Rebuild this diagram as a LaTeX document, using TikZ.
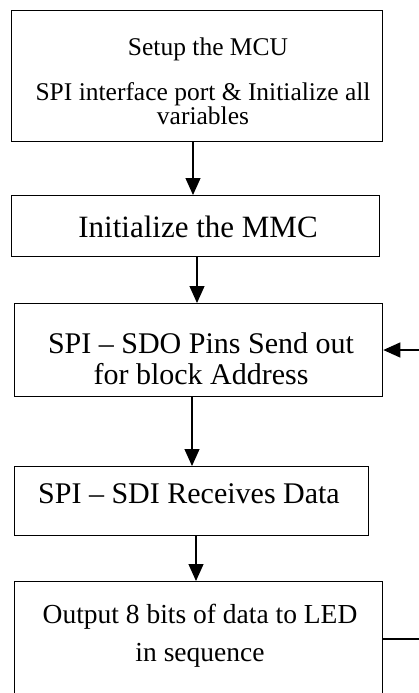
\documentclass[tikz,border=0pt]{standalone}
\usepackage{fontspec}
\setmainfont{Liberation Serif}
\usetikzlibrary{arrows.meta}

\tikzset{
  flowbox/.style={draw, line width=1.3pt, rectangle, inner sep=0pt, anchor=north west},
  line/.style={anchor=base, inner sep=0pt},
  flowarrow/.style={line width=1.2pt, -{Triangle[length=17pt,width=15pt]}},
  feedback/.style={line width=1.2pt}
}
\newcommand{\fs}[1]{\fontsize{#1}{#1}\selectfont}

\begin{document}
\begin{tikzpicture}[x=1pt, y=-1pt]
  \useasboundingbox (0,0) rectangle (419,693);
  \clip (0,0) rectangle (419,693);

  % boxes
  \node[flowbox, minimum width=371pt, minimum height=131pt] (b1) at (11,10) {};
  \node[flowbox, minimum width=368pt, minimum height=61pt]  (b2) at (11,195) {};
  \node[flowbox, minimum width=368pt, minimum height=93pt]  (b3) at (14,303) {};
  \node[flowbox, minimum width=354pt, minimum height=69pt]  (b4) at (14,466) {};
  \node[flowbox, minimum width=368pt, minimum height=140pt] (b5) at (14,581) {};

  % texts
  \node[line, font=\fs{25.5}] (t1a) at (208,56)  {Setup the MCU};
  \node[line, font=\fs{25.5}] (t1b) at (203,100) {SPI interface port \& Initialize all};
  \node[line, font=\fs{25.5}] (t1c) at (203,124) {variables};
  \node[line, font=\fs{31}]   (t2)  at (198,237) {Initialize the MMC};
  \node[line, font=\fs{30}]   (t3a) at (201,353) {SPI -- SDO Pins Send out};
  \node[line, font=\fs{30}]   (t3b) at (201,384) {for block Address};
  \node[line, font=\fs{30}]   (t4)  at (189,503) {SPI -- SDI Receives Data};
  \node[line, font=\fs{27.5}] (t5a) at (200,623) {Output 8 bits of data to LED};
  \node[line, font=\fs{27.5}] (t5b) at (200,661) {in sequence};

  % flow arrows
  \draw[flowarrow] (b1.south -| 193,0) -- (b2.north -| 193,0);
  \draw[flowarrow] (b2.south -| 197,0) -- (b3.north -| 197,0);
  \draw[flowarrow] (b3.south -| 192,0) -- (b4.north -| 192,0);
  \draw[flowarrow] (b4.south -| 196,0) -- (b5.north -| 196,0);

  % loop back from the output step
  \coordinate (r5) at (430,639);
  \coordinate (r3) at (430,350);
  \draw[feedback] (b5.east |- r5) -- (r5) -- (r3);
  \draw[flowarrow] (r3) -- (b3.east |- r3);
\end{tikzpicture}
\end{document}
